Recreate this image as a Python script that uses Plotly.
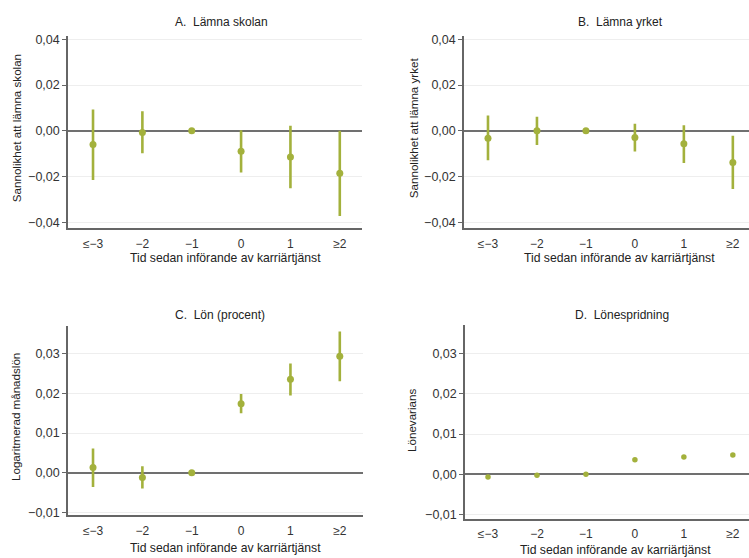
import plotly.graph_objects as go

W, H = 749, 558

categories = ["≤−3", "−2", "−1", "0", "1", "≥2"]

# Panel A: Lämna skolan
a_est = [-0.0060, -0.0007, 0.0, -0.0089, -0.0115, -0.0186]
a_lo = [-0.0215, -0.0098, 0.0, -0.0182, -0.0251, -0.0373]
a_hi = [0.0093, 0.0086, 0.0, 0.0003, 0.0022, 0.0000]

# Panel B: Lämna yrket
b_est = [-0.0032, 0.0000, 0.0, -0.0029, -0.0057, -0.0139]
b_lo = [-0.0129, -0.0062, 0.0, -0.0090, -0.0141, -0.0255]
b_hi = [0.0067, 0.0062, 0.0, 0.0031, 0.0024, -0.0022]

# Panel C: Lön (procent)
c_est = [0.0013, -0.0012, 0.0, 0.0174, 0.0236, 0.0294]
c_lo = [-0.0036, -0.0040, 0.0, 0.0150, 0.0195, 0.0231]
c_hi = [0.0061, 0.0016, 0.0, 0.0199, 0.0276, 0.0357]

# Panel D: Lönespridning
d_est = [-0.0007, -0.0003, 0.0, 0.0036, 0.0043, 0.0048]

panel_titles = ["A.\u00a0 Lämna skolan", "B.\u00a0 Lämna yrket", "C.\u00a0 Lön (procent)", "D.\u00a0 Lönespridning"]
y_titles = ["Sannolikhet att lämna skolan", "Sannolikhet att lämna yrket", "Logaritmerad månadslön", "Lönevarians"]
x_title = "Tid sedan införande av karriärtjänst"

OLIVE = "#a3b13c"
AXC = "#666666"
FONT = "Liberation Sans, Arial, sans-serif"

def px_x(p):
    return p / W

def px_y(p):
    return 1 - p / H

# panel pixel boxes: (left, right, top, bottom)
boxes = [(68, 362, 33, 228), (464, 749, 33, 228), (68, 363, 328, 519), (465, 749, 327, 524)]
xranges = [[-0.507, 5.45], [-0.49, 5.33], [-0.507, 5.47], [-0.47, 5.33]]
yranges = [[-0.0424, 0.0417], [-0.0424, 0.0417], [-0.0106, 0.0370], [-0.0113, 0.0371]]
ytickvals = [[-0.04, -0.02, 0.0, 0.02, 0.04]] * 2 + [[-0.01, 0.0, 0.01, 0.02, 0.03]] * 2
xticklens = [4, 4, 4, 2]

fig = go.Figure()
xs = list(range(len(categories)))

series = [(a_est, a_lo, a_hi), (b_est, b_lo, b_hi), (c_est, c_lo, c_hi), (d_est, None, None)]

for i, (est, lo, hi) in enumerate(series):
    n = i + 1
    xa = "x" if n == 1 else f"x{n}"
    ya = "y" if n == 1 else f"y{n}"
    err = None
    if lo is not None:
        err = dict(type="data", symmetric=False,
                   array=[h - e for h, e in zip(hi, est)],
                   arrayminus=[e - l for e, l in zip(est, lo)],
                   color=OLIVE, thickness=2.6, width=0)
    fig.add_trace(go.Scatter(x=xs, y=est, mode="markers", xaxis=xa, yaxis=ya,
                             marker=dict(color=OLIVE, size=7 if lo is not None else 5.5),
                             error_y=err, showlegend=False, cliponaxis=False))

layout = dict(width=W, height=H, margin=dict(l=0, r=0, t=0, b=0),
              paper_bgcolor="white", plot_bgcolor="white",
              separators=", ", font=dict(family=FONT, size=12, color="#222222"))

annotations = []
title_pos = [(221, 19), (620, 19), (220, 317), (622, 317)]
xt_pos = [(225, 259), (619, 259), (225, 553), (615, 555)]
yt_pos = [(16, 127), (413, 126), (16, 420), (412, 424)]

for i in range(4):
    n = i + 1
    l, r, t, b = boxes[i]
    xk = "xaxis" if n == 1 else f"xaxis{n}"
    yk = "yaxis" if n == 1 else f"yaxis{n}"
    ya = "y" if n == 1 else f"y{n}"
    xa = "x" if n == 1 else f"x{n}"
    layout[xk] = dict(domain=[px_x(l), min(px_x(r), 1)], anchor=ya, range=xranges[i],
                      tickvals=xs, ticktext=categories, showgrid=False, zeroline=False,
                      showline=True, linecolor=AXC, linewidth=1.5,
                      ticks="outside", ticklen=xticklens[i], tickcolor="rgba(0,0,0,0)",
                      tickfont=dict(size=12, color="#333333"), fixedrange=True)
    layout[yk] = dict(domain=[px_y(b), px_y(t)], anchor=xa, range=yranges[i],
                      tickvals=ytickvals[i], tickformat=".2f",
                      showgrid=True, gridcolor="#eeeeee", gridwidth=1,
                      zeroline=True, zerolinecolor="#707070", zerolinewidth=1.5,
                      showline=True, linecolor=AXC, linewidth=1.5,
                      ticks="outside", ticklen=4, tickcolor=AXC,
                      tickfont=dict(size=12.5, color="#333333"), fixedrange=True)
    tx, ty = title_pos[i]
    annotations.append(dict(text=panel_titles[i], x=px_x(tx), y=px_y(ty), xref="paper", yref="paper",
                            showarrow=False, xanchor="center", yanchor="middle",
                            font=dict(size=12, color="#222222")))
    tx, ty = xt_pos[i]
    annotations.append(dict(text=x_title, x=px_x(tx), y=px_y(ty), xref="paper", yref="paper",
                            showarrow=False, xanchor="center", yanchor="middle", borderpad=0,
                            font=dict(size=12.2, color="#222222")))
    tx, ty = yt_pos[i]
    annotations.append(dict(text=y_titles[i], x=px_x(tx), y=px_y(ty), xref="paper", yref="paper",
                            showarrow=False, xanchor="center", yanchor="middle", textangle=-90,
                            font=dict(size=11.6, color="#222222")))

layout["annotations"] = annotations
fig.update_layout(**layout)
fig.write_html("out.html", config={"displayModeBar": False},
               post_script="document.body.style.margin='0';")
